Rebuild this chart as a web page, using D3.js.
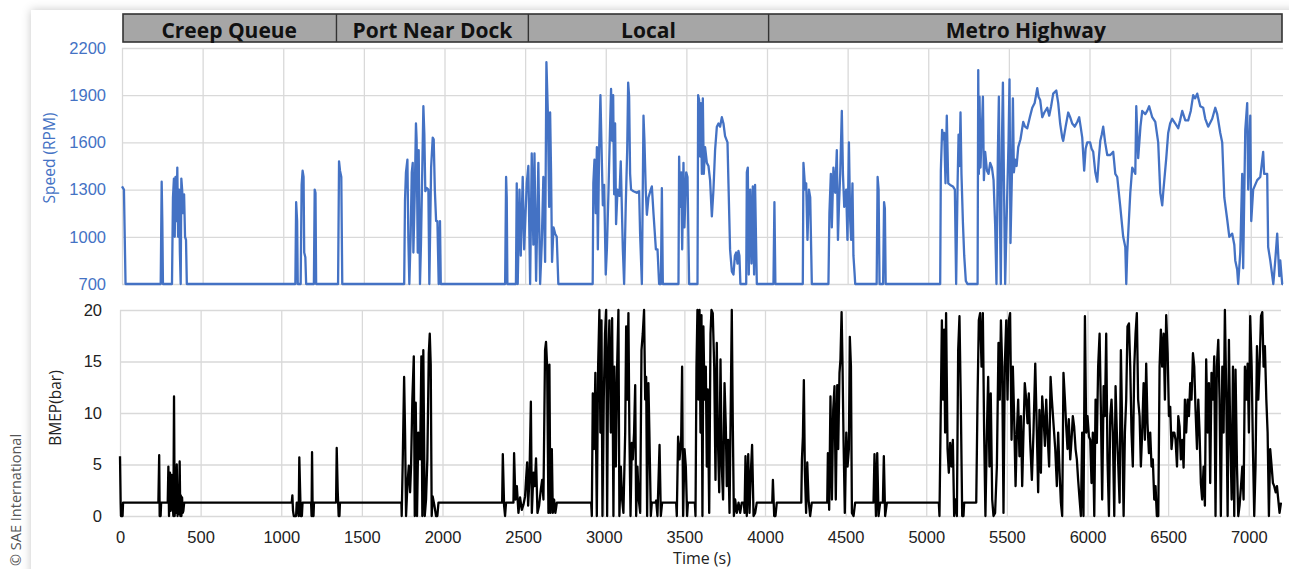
<!DOCTYPE html>
<html>
<head>
<meta charset="utf-8">
<script src="https://cdn.jsdelivr.net/npm/d3@7"></script>
<style>
  html, body { margin: 0; padding: 0; background: #fff; }
  svg { display: block; font-family: "Open Sans", sans-serif; }
</style>
</head>
<body>
<script>
// ----- Data (time in s) -----

const phaseNames = ["Creep Queue", "Port Near Dock", "Local", "Metro Highway"];
const phaseBounds = [0, 1330, 2520, 4010, 7200];

const speedTicks = [700, 1000, 1300, 1600, 1900, 2200];
const bmepTicks = [0, 5, 10, 15, 20];
const timeTicks = [0, 500, 1000, 1500, 2000, 2500, 3000, 3500, 4000, 4500, 5000, 5500, 6000, 6500, 7000];

// engine speed [time, rpm]
const creepRpm = [
  [0,1320],[12,1300],[22,700],
  [240,700],[246,1350],[250,1100],[254,700],
  [310,700],[316,1250],[322,1370],[327,1000],[332,1380],[338,1100],[343,1440],[348,1000],[354,1300],[359,900],[364,700],[368,1370],[373,1300],[379,1150],[385,1270],[391,1000],[397,980],[402,700],
  [1075,700],[1080,1220],[1086,1100],[1090,700],[1108,700],[1114,1330],[1120,1420],[1126,1380],[1130,900],[1137,870],[1142,700],
  [1190,700],[1195,1300],[1200,1280],[1204,700]
];
const portRpm = [
  [1340,700],[1346,1480],[1352,1420],[1360,1380],[1366,700],
  [1750,700],[1755,1230],[1761,1410],[1770,1490],[1776,980],[1782,700],[1790,1000],[1797,1410],[1803,1470],[1807,900],[1816,1300],[1823,1720],[1827,1620],[1834,900],[1840,1550],[1848,700],[1854,950],[1860,1300],[1869,1830],[1875,1650],[1881,1290],[1890,1310],[1900,1300],[1906,700],[1917,1440],[1927,1630],[1933,1620],[1940,1300],[1948,1100],[1956,1100],[1964,700],[1972,1100],[1977,700],
  [2376,700],[2382,1380],[2386,1250],[2390,700],
  [2443,700],[2448,1340],[2454,700],[2465,1300],[2473,880],[2485,1380],[2494,920],[2510,1340]
];
const localRpm = [
  [2520,1450],[2531,700],[2541,1530],[2551,950],[2558,1530],[2568,720],[2582,1470],[2593,700],[2603,950],[2613,1380],[2624,840],[2632,2110],[2641,1790],[2649,1190],[2655,1790],[2661,1400],[2667,840],[2676,1060],[2686,1020],[2696,1000],[2706,700],
  [2919,700],[2923,1340],[2930,1490],[2938,1150],[2945,1570],[2951,920],[2959,1550],[2967,1900],[2973,1610],[2982,1200],[2990,1330],[3000,760],[3007,920],[3017,1290],[3027,1710],[3033,1940],[3039,1610],[3046,1900],[3052,1270],[3058,1720],[3064,1080],[3073,1300],[3085,1260],[3093,1480],[3106,920],[3114,700],[3124,1200],[3133,1550],[3139,1980],[3145,1890],[3151,1400],[3157,1300],[3172,1290],[3192,1280],[3207,1290],[3213,1020],[3224,700],[3234,1770],[3240,1610],[3248,1300],[3255,1140],[3265,1250],[3279,1300],[3286,1320],[3296,1150],[3311,920],[3321,920],[3331,700],[3342,700],[3348,1310],[3354,700],
  [3451,700],[3455,1510],[3461,1190],[3468,1410],[3474,920],[3482,1470],[3488,1060],[3499,1410],[3507,1380],[3517,700],
  [3569,700],[3573,1900],[3579,1870],[3585,1510],[3590,1850],[3596,1400],[3602,1880],[3608,1400],[3616,1570],[3627,1470],[3637,1450],[3647,1360],[3658,1130],[3668,1300],[3678,1550],[3689,1700],[3699,1720],[3709,1700],[3720,1760],[3730,1720],[3740,1640],[3755,1600],[3761,1340],[3771,920],[3782,780],[3792,760],[3801,880],[3809,900],[3817,830],[3823,910],[3829,880],[3835,700],
  [3871,700],[3875,1410],[3881,1440],[3887,760],[3896,1300],[3904,830],[3912,1320],[3920,760],[3926,1330],[3933,920],[3937,700]
];
const metroRpm = [
  [4040,700],[4046,1220],[4052,700],
  [4222,700],[4226,1470],[4237,1300],[4243,1340],[4251,980],[4260,1300],[4268,1250],[4278,700],
  [4381,700],[4387,1150],[4396,1400],[4402,1060],[4412,1440],[4423,1280],[4433,1550],[4440,980],[4446,1190],[4454,1400],[4464,1800],[4471,1400],[4479,1190],[4491,1300],[4499,980],[4508,1600],[4516,1100],[4522,980],[4530,1340],[4536,880],[4543,770],[4547,700],
  [4680,700],[4686,1380],[4692,1300],[4698,700],[4720,700],[4726,1220],[4731,1180],[4736,700],
  [5074,700],[5078,1420],[5086,1680],[5093,1620],[5099,1660],[5107,1340],[5115,1770],[5124,1340],[5136,1330],[5153,1320],[5165,1300],[5173,700],[5182,1340],[5188,1650],[5194,1450],[5200,1790],[5206,1400],[5215,1090],[5223,880],[5233,720],[5243,700],
  [5306,700],[5310,2060],[5314,1400],[5318,1890],[5324,1440],[5333,1700],[5339,1890],[5345,1360],[5353,1540],[5364,1420],[5374,1400],[5384,1470],[5395,1440],[5405,1360],[5415,1070],[5423,700],[5432,1550],[5438,1890],[5444,1190],[5450,700],[5457,1610],[5463,1980],[5469,1400],[5477,700],[5488,1190],[5498,1610],[5504,2000],[5510,960],[5519,1400],[5525,1880],[5531,1410],
  [5539,1490],[5548,1450],[5558,1570],[5572,1620],[5589,1730],[5600,1700],[5614,1690],[5630,1760],[5645,1820],[5660,1850],[5676,1945],[5684,1890],[5694,1870],[5707,1760],[5720,1790],[5738,1820],[5750,1770],[5762,1830],[5775,1910],[5794,1930],[5806,1850],[5818,1720],[5831,1630],[5837,1610],[5852,1700],[5868,1790],[5880,1760],[5893,1720],[5908,1700],[5924,1730],[5936,1760],[5945,1700],[5955,1630],[5967,1420],[5976,1560],[5986,1600],[6004,1600],[6013,1560],[6023,1540],[6036,1410],[6048,1350],[6058,1500],[6067,1610],[6076,1650],[6085,1700],[6097,1600],[6110,1520],[6129,1520],[6147,1540],[6160,1400],[6172,1380],[6191,1190],[6209,1000],[6222,935],[6228,700],[6234,900],[6253,1280],[6265,1440],[6284,1400],[6290,1830],[6302,1500],[6316,1700],[6327,1800],[6346,1780],[6358,1800],[6370,1830],[6389,1760],[6408,1730],[6426,1600],[6439,1280],[6451,1200],[6457,1280],[6476,1500],[6488,1660],[6500,1720],[6513,1750],[6532,1720],[6550,1690],[6562,1740],[6575,1800],[6594,1740],[6612,1740],[6628,1800],[6643,1900],[6655,1880],[6668,1910],[6687,1830],[6705,1820],[6718,1750],[6736,1700],[6761,1750],[6780,1820],[6792,1780],[6811,1660],[6823,1600],[6836,1250],[6854,1110],[6867,1000],[6885,1020],[6898,950],[6904,850],[6916,790],[6922,700],[6935,900],[6947,1400],[6953,800],[6966,1680],[6978,1850],[6984,1300],[6997,1770],[7003,1100],[7015,1300],[7040,1360],[7059,1380],[7077,1540],[7083,1400],[7102,1400],[7108,935],[7121,850],[7140,700],[7152,850],[7164,1020],[7177,750],[7183,850],[7195,700],[7200,700]
];

// brake mean effective pressure [time, bar]
const creepBmep = [
  [0,5.8],[4,1.3],[6,0],[16,0],[19,1.3],
  [238,1.3],[243,5.9],[246,0],[252,0],[255,1.3],
  [296,1.3],[300,4.8],[304,0],[310,4.2],[314,0.5],[321,4.0],[327,1.0],[331,0],[335,11.6],[339,0],[343,2.0],[348,0.3],[352,5.0],[357,0],[362,1.5],[366,0.2],[370,5.3],[374,0],[377,2.0],[381,0],[385,1.8],[389,0.3],[393,0.5],[398,1.3],
  [1065,1.3],[1069,2.0],[1073,0.5],[1078,0],[1092,0],[1096,1.3],[1104,1.3],[1108,0],[1112,5.7],[1117,2.5],[1121,0],[1128,0],[1132,1.3],
  [1185,1.3],[1188,0],[1191,6.2],[1195,0],[1200,0],[1203,1.3]
];
const portBmep = [
  [1340,1.3],[1344,6.6],[1350,2.5],[1356,0],[1361,0],[1364,1.3],
  [1745,1.3],[1747,0],[1753,5.0],[1762,13.5],[1768,7.9],[1774,0],[1782,2.9],[1791,4.9],[1799,2.3],[1805,4.8],[1813,11.3],[1822,15.5],[1828,0],[1834,11.0],[1842,0],[1850,8.1],[1861,5.5],[1869,15.5],[1875,0],[1881,16.1],[1890,0],[1898,1.6],[1906,5.5],[1915,15.8],[1921,17.7],[1927,14.7],[1933,0],[1939,1.9],[1950,1.0],[1960,0],[1968,0],[1975,1.3],
  [2370,1.3],[2374,6.0],[2382,1.0],[2388,0],[2394,1.3],
  [2440,1.3],[2444,6.1],[2452,1.6],[2461,2.9],[2471,0.3],[2481,1.8],[2492,0.6],[2502,1.1],[2512,1.9]
];
const localBmep = [
  [2518,3.5],[2525,5.2],[2531,1.0],[2539,3.5],[2548,11.1],[2554,0.3],[2564,4.2],[2572,2.9],[2580,5.6],[2589,0.3],[2599,1.0],[2610,2.6],[2618,3.5],[2626,1.6],[2636,16.1],[2642,16.9],[2649,14.5],[2657,0.3],[2663,14.7],[2669,0.3],[2678,6.5],[2684,0.3],[2692,1.6],[2700,0.3],[2709,1.3],
  [2922,1.3],[2926,0],[2932,11.9],[2940,6.5],[2948,13.9],[2957,0],[2965,14.5],[2973,20],[2979,8.1],[2986,19.0],[2992,0],[3000,11.3],[3008,17.7],[3015,20],[3021,0],[3027,14.5],[3035,19.0],[3044,8.1],[3052,19.2],[3060,0],[3066,14.5],[3075,4.8],[3083,14.5],[3091,20],[3097,0],[3106,4.8],[3114,1.6],[3122,0.3],[3133,8.1],[3139,18.4],[3145,11.3],[3153,19.7],[3159,8.1],[3166,0],[3174,7.1],[3180,5.5],[3188,8.1],[3195,12.7],[3201,0],[3209,4.8],[3217,1.6],[3226,0.3],[3234,16.1],[3242,17.7],[3250,20],[3257,11.3],[3263,13.5],[3269,0],[3277,12.9],[3283,8.1],[3292,0],[3298,1.3],
  [3320,1.3],[3325,1.5],[3333,0],[3346,6.9],[3354,0],[3362,1.3],
  [3449,1.3],[3453,0],[3461,7.7],[3470,5.5],[3480,7.4],[3486,14.5],[3492,0],[3501,6.5],[3509,4.8],[3517,0],[3522,1.3],
  [3565,1.3],[3569,0],[3575,14.5],[3581,20],[3587,11.3],[3594,20],[3600,8.1],[3606,19.5],[3612,0],[3618,18.4],[3625,11.3],[3633,14.5],[3639,4.8],[3645,12.3],[3654,0.3],[3662,17.7],[3668,20],[3676,19.7],[3685,14.5],[3693,3.5],[3701,16.8],[3707,8.1],[3716,2.3],[3724,15.2],[3732,4.8],[3740,1.6],[3749,12.9],[3757,8.7],[3763,2.9],[3771,7.4],[3780,0.3],[3788,11.3],[3794,20],[3800,9.4],[3807,0],[3815,1.6],[3825,0.3],[3836,1.3],[3846,0.3],[3856,1.3],
  [3869,1.3],[3873,0.3],[3879,5.8],[3887,0],[3896,6.0],[3904,0.3],[3912,4.2],[3920,6.9],[3929,0],[3939,0.3],[3949,1.3]
];
const metroBmep = [
  [4045,1.3],[4049,3.5],[4057,0],[4065,0],[4073,1.3],
  [4225,1.3],[4229,5.5],[4235,7.7],[4241,13.2],[4247,4.5],[4255,0.3],[4262,5.2],[4270,1.6],[4280,0],[4290,1.3],
  [4386,1.3],[4390,6.1],[4398,0.6],[4406,11.6],[4415,1.6],[4423,10.3],[4431,12.6],[4439,1.6],[4448,12.7],[4454,6.5],[4462,13.9],[4468,15.2],[4475,19.8],[4481,14.5],[4487,7.4],[4495,0.3],[4504,8.1],[4512,4.8],[4520,6.5],[4526,17.4],[4533,14.5],[4539,0.3],[4549,0],[4559,1.3],
  [4673,1.3],[4679,6.0],[4688,0],[4696,6.1],[4704,0],[4714,1.3],[4731,1.3],[4737,5.8],[4745,0],[4756,1.3],
  [5078,1.3],[5082,0],[5090,10.3],[5097,19.0],[5103,11.3],[5111,18.1],[5117,8.1],[5123,19.7],[5132,6.5],[5140,4.2],[5148,7.1],[5156,4.8],[5165,7.4],[5173,0],[5181,1.6],[5190,0],[5198,16.1],[5206,19.4],[5214,11.3],[5223,0],[5231,0],[5235,1.3],
  [5310,1.3],[5318,11.3],[5326,19.0],[5334,19.7],[5343,14.5],[5351,19.7],[5359,8.1],[5367,0],[5376,8.1],[5384,13.5],[5392,4.8],[5400,11.9],[5409,1.6],[5417,0],[5427,0.3],[5438,4.8],[5448,16.8],[5456,11.3],[5463,19.0],[5471,14.5],[5479,0.3],[5487,14.5],[5496,19.0],[5504,11.3],[5512,19.0],[5520,19.7],[5529,7.4],[5537,14.5],[5545,9.7],[5554,2.9],[5562,8.1],[5570,11.3],[5578,5.8],[5587,9.7],[5595,2.9],[5603,8.1],[5611,12.9],[5620,11.3],[5628,9.0],[5636,11.9],[5644,7.4],[5655,3.5],[5665,8.1],[5676,14.8],[5686,8.1],[5694,2.3],[5702,10.3],[5711,4.2],[5719,11.6],[5727,9.7],[5736,6.8],[5744,11.3],[5752,8.1],[5762,4.8],[5771,13.5],[5779,11.3],[5789,9.0],[5800,6.5],[5810,2.9],[5818,8.1],[5827,4.2],[5835,1.3],[5843,0],[5851,13.9],[5860,11.3],[5868,8.7],[5876,6.5],[5884,9.4],[5893,5.5],[5901,7.4],[5909,9.7],[5917,8.7],[5926,6.5],[5934,5.5],[5942,3.5],[5951,1.6],[5959,0],[5967,8.1],[5975,0],[5984,19.4],[5992,8.1],[6000,9.7],[6009,7.7],[6017,7.4],[6025,3.2],[6033,8.1],[6042,0],[6050,11.3],[6058,7.1],[6066,14.5],[6075,17.7],[6083,10.3],[6091,1.6],[6100,12.6],[6108,9.7],[6116,17.7],[6124,5.5],[6133,0],[6141,9.7],[6149,11.3],[6157,8.1],[6166,0],[6174,12.6],[6182,8.1],[6191,4.8],[6199,1.3],[6207,16.1],[6215,8.7],[6224,0],[6232,8.1],[6240,11.3],[6248,18.4],[6257,18.7],[6265,14.5],[6273,8.1],[6281,4.8],[6290,14.5],[6298,17.7],[6306,19.7],[6314,11.3],[6323,9.7],[6331,4.8],[6339,8.1],[6348,12.9],[6356,7.4],[6364,14.8],[6372,9.0],[6381,6.1],[6389,8.1],[6397,4.8],[6405,5.5],[6414,1.6],[6422,2.9],[6430,0],[6439,0],[6447,14.5],[6455,18.1],[6463,14.5],[6472,17.7],[6480,11.3],[6488,19.5],[6497,15.8],[6505,9.7],[6513,10.6],[6521,6.5],[6530,8.1],[6538,8.1],[6546,7.4],[6555,4.8],[6563,9.7],[6571,8.7],[6579,5.5],[6588,7.4],[6596,4.7],[6604,11.3],[6612,8.1],[6621,11.3],[6629,9.7],[6637,12.9],[6645,11.3],[6654,15.8],[6662,14.5],[6670,10.3],[6679,6.5],[6687,11.3],[6695,8.1],[6703,3.2],[6711,1.6],[6720,4.8],[6728,1.0],[6736,15.2],[6745,8.1],[6753,12.9],[6761,3.2],[6769,13.9],[6778,11.3],[6786,15.5],[6794,0],[6802,14.5],[6811,17.1],[6819,11.3],[6827,0],[6836,14.5],[6844,8.1],[6852,20],[6861,11.3],[6869,0],[6877,17.1],[6885,8.1],[6894,1.6],[6902,14.5],[6910,0],[6918,14.2],[6927,4.8],[6935,0],[6943,1.0],[6952,2.9],[6960,4.8],[6968,1.6],[6976,14.5],[6985,11.3],[6993,14.8],[7001,8.1],[7009,19.4],[7018,14.5],[7026,6.5],[7034,0],[7042,4.8],[7051,16.5],[7059,11.3],[7067,14.5],[7076,19.4],[7084,19.8],[7092,14.5],[7100,16.5],[7109,11.3],[7117,8.1],[7125,0],[7133,6.5],[7142,4.8],[7150,3.2],[7158,2.9],[7167,2.3],[7175,2.9],[7183,1.6],[7191,0.3],[7200,1.3]
];

// ----- Layout -----

const W = 1289, H = 569;
const speedColor = "#4472c4";
const gridColor = "#d9d9d9";

const svg = d3.select("body").append("svg")
  .attr("width", W)
  .attr("height", H);

// card with soft shadow
const defs = svg.append("defs");
defs.append("filter")
  .attr("id", "shadow")
  .attr("x", "-5%").attr("y", "-5%").attr("width", "110%").attr("height", "110%")
  .append("feDropShadow")
    .attr("dx", 0).attr("dy", 0)
    .attr("stdDeviation", 5)
    .attr("flood-color", "#000")
    .attr("flood-opacity", 0.22);

svg.append("rect")
  .attr("x", 31).attr("y", 10)
  .attr("width", W + 40).attr("height", H + 40)
  .attr("fill", "#fff")
  .attr("filter", "url(#shadow)");

// scales
const xTop = d3.scaleLinear().domain([0, 7200]).range([122, 1283]);
const yTop = d3.scaleLinear().domain([700, 2200]).range([284, 48]);
const xBot = d3.scaleLinear().domain([0, 7200]).range([120, 1281]);
const yBot = d3.scaleLinear().domain([0, 20]).range([516, 310]);

function styleGrid(g) {
  g.select(".domain").remove();
  g.selectAll(".tick line").attr("stroke", gridColor).attr("stroke-width", 1.3);
}

// ----- Speed panel -----

const topPanel = svg.append("g").attr("class", "speed");

topPanel.append("g")
  .attr("transform", `translate(0, ${yTop(700)})`)
  .call(d3.axisBottom(xTop).tickValues(timeTicks).tickSize(-(yTop(700) - yTop(2200))).tickFormat(""))
  .call(styleGrid);

topPanel.append("g")
  .attr("transform", `translate(${xTop(0)}, 0)`)
  .call(d3.axisLeft(yTop).tickValues(speedTicks).tickSize(-(xTop(7200) - xTop(0))).tickPadding(16).tickFormat(d3.format("d")))
  .call(styleGrid)
  .call(g => g.selectAll("text")
    .attr("fill", speedColor)
    .style("font-size", "16.5px"));

topPanel.append("path")
  .datum(creepRpm.concat(portRpm, localRpm, metroRpm))
  .attr("fill", "none")
  .attr("stroke", speedColor)
  .attr("stroke-width", 2.3)
  .attr("stroke-linejoin", "round")
  .attr("d", d3.line().x(d => xTop(d[0])).y(d => yTop(d[1])));

topPanel.append("text")
  .text("Speed (RPM)")
  .attr("fill", speedColor)
  .style("font-size", "15.5px")
  .attr("text-anchor", "middle")
  .attr("transform", `translate(55, 158) rotate(-90)`);

// phase band
const band = svg.append("g").attr("class", "phases");
band.append("rect")
  .attr("x", xTop(0) + 1).attr("y", 14)
  .attr("width", xTop(7200) - xTop(0) - 2).attr("height", 28)
  .attr("fill", "#a6a6a6")
  .attr("stroke", "#333")
  .attr("stroke-width", 1.6);
band.selectAll("line")
  .data(phaseBounds.slice(1, -1))
  .enter()
  .append("line")
    .attr("x1", d => xTop(d)).attr("x2", d => xTop(d))
    .attr("y1", 14).attr("y2", 42)
    .attr("stroke", "#333")
    .attr("stroke-width", 1.4);
band.selectAll("text")
  .data(phaseNames)
  .enter()
  .append("text")
    .text(d => d)
    .attr("x", (d, i) => (xTop(phaseBounds[i]) + xTop(phaseBounds[i + 1])) / 2)
    .attr("y", 38)
    .attr("text-anchor", "middle")
    .attr("fill", "#111")
    .style("font-size", "21px")
    .style("font-weight", "bold");

// ----- BMEP panel -----

const botPanel = svg.append("g").attr("class", "bmep");

botPanel.append("g")
  .attr("transform", `translate(0, ${yBot(0)})`)
  .call(d3.axisBottom(xBot).tickValues(timeTicks).tickSize(-(yBot(0) - yBot(20))).tickPadding(15).tickFormat(d3.format("d")))
  .call(styleGrid)
  .call(g => g.selectAll("text")
    .attr("fill", "#222")
    .style("font-size", "16.5px"));

botPanel.append("g")
  .attr("transform", `translate(${xBot(0)}, 0)`)
  .call(d3.axisLeft(yBot).tickValues(bmepTicks).tickSize(-(xBot(7200) - xBot(0))).tickPadding(18))
  .call(styleGrid)
  .call(g => g.selectAll("text")
    .attr("fill", "#222")
    .style("font-size", "16.5px"));

botPanel.append("path")
  .datum(creepBmep.concat(portBmep, localBmep, metroBmep))
  .attr("fill", "none")
  .attr("stroke", "#000")
  .attr("stroke-width", 2.3)
  .attr("stroke-linejoin", "round")
  .attr("d", d3.line().x(d => xBot(d[0])).y(d => yBot(d[1])));

botPanel.append("text")
  .text("BMEP(bar)")
  .attr("fill", "#222")
  .style("font-size", "15.5px")
  .attr("text-anchor", "middle")
  .attr("transform", `translate(61, 408) rotate(-90)`);

botPanel.append("text")
  .text("Time (s)")
  .attr("fill", "#222")
  .style("font-size", "16px")
  .attr("text-anchor", "middle")
  .attr("x", 702)
  .attr("y", 564);

// credit
svg.append("text")
  .text("© SAE International")
  .attr("fill", "#555")
  .style("font-size", "14.5px")
  .attr("text-anchor", "start")
  .attr("transform", "translate(21, 566) rotate(-90)");
</script>
</body>
</html>
